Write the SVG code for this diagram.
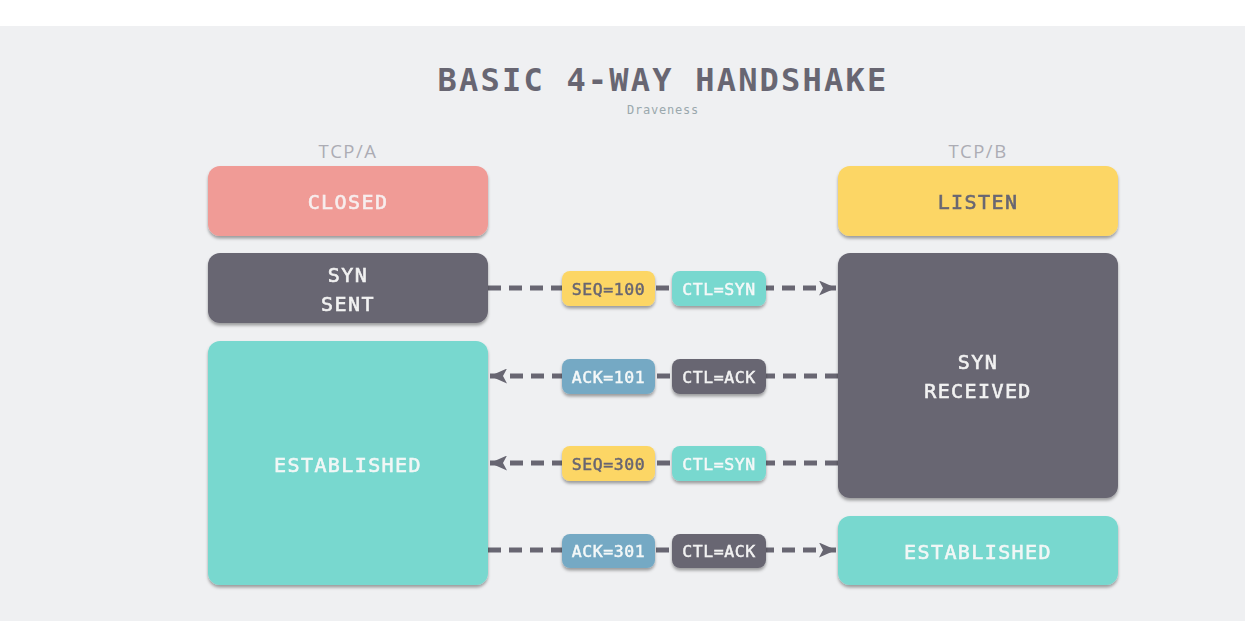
<svg xmlns="http://www.w3.org/2000/svg" width="1245" height="621" viewBox="0 0 1245 621">
<defs>
<filter id="sh" x="-10%" y="-10%" width="120%" height="130%">
<feDropShadow dx="0" dy="2.5" stdDeviation="1.5" flood-color="#000" flood-opacity="0.35"/>
</filter>
<marker id="ah" viewBox="0 0 17 15" refX="17" refY="7.5" markerWidth="17" markerHeight="15" markerUnits="userSpaceOnUse" orient="auto">
<path d="M0,0 L17,7.5 L0,15 L4,7.5 Z" fill="#686672"/>
</marker>
<style>
.node{filter:url(#sh)}
.nt{font-family:"DejaVu Sans Mono",monospace;font-size:20px;letter-spacing:1.4px;text-anchor:middle;dominant-baseline:central;stroke-width:0.6px;paint-order:stroke}
.pt{font-family:"DejaVu Sans Mono",monospace;font-size:16.5px;letter-spacing:0.6px;text-anchor:middle;dominant-baseline:central;stroke-width:0.5px}
.lab{font-family:"Open Sans","Liberation Sans",sans-serif;font-size:18.5px;letter-spacing:1.5px;fill:#acacb4;text-anchor:middle}
.conn{stroke:#686672;stroke-width:5;stroke-dasharray:13 8;fill:none}
</style>
</defs>
<rect x="0" y="0" width="1245" height="621" fill="#ffffff"/>
<rect x="0" y="26" width="1245" height="595" fill="#eff0f2"/>
<g id="title">
<text x="663" y="91" font-family="DejaVu Sans Mono,monospace" font-weight="bold" font-size="32" letter-spacing="2.2" fill="#686672" text-anchor="middle">BASIC 4-WAY HANDSHAKE</text>
<text x="663" y="114" font-family="DejaVu Sans Mono,monospace" font-size="12" letter-spacing="0.8" fill="#9aa8ad" text-anchor="middle">Draveness</text>
</g>
<g id="labels">
<text class="lab" x="348" y="158">TCP/A</text>
<text class="lab" x="978" y="158">TCP/B</text>
</g>
<g id="connectors">
<line class="conn" x1="488" y1="288" x2="836" y2="288" marker-end="url(#ah)"/>
<line class="conn" x1="838" y1="376" x2="490" y2="376" marker-end="url(#ah)"/>
<line class="conn" x1="838" y1="463" x2="490" y2="463" marker-end="url(#ah)"/>
<line class="conn" x1="488" y1="550" x2="836" y2="550" marker-end="url(#ah)"/>
</g>
<g id="closed" class="node"><rect x="208" y="166" width="280" height="70" rx="12" fill="#f09b96"/><text class="nt" x="348" y="202" fill="#f7eeee" stroke="#f7eeee">CLOSED</text></g>
<g id="synsent" class="node"><rect x="208" y="253" width="280" height="70" rx="12" fill="#686672"/><text class="nt" x="348" y="275" fill="#f2f2f2" stroke="#f2f2f2">SYN</text><text class="nt" x="348" y="304" fill="#f2f2f2" stroke="#f2f2f2">SENT</text></g>
<g id="estA" class="node"><rect x="208" y="341" width="280" height="244" rx="12" fill="#78d8cf"/><text class="nt" x="348" y="465" fill="#f2f7f6" stroke="#f2f7f6">ESTABLISHED</text></g>
<g id="listen" class="node"><rect x="838" y="166" width="280" height="70" rx="12" fill="#fcd665"/><text class="nt" x="978" y="202" fill="#686672" stroke="#686672">LISTEN</text></g>
<g id="synrecv" class="node"><rect x="838" y="253" width="280" height="245" rx="12" fill="#686672"/><text class="nt" x="978" y="362" fill="#f2f2f2" stroke="#f2f2f2">SYN</text><text class="nt" x="978" y="391" fill="#f2f2f2" stroke="#f2f2f2">RECEIVED</text></g>
<g id="estB" class="node"><rect x="838" y="516" width="280" height="69" rx="12" fill="#78d8cf"/><text class="nt" x="978" y="552" fill="#f2f7f6" stroke="#f2f7f6">ESTABLISHED</text></g>
<g id="p1" class="node"><rect x="562" y="271" width="93" height="35" rx="8" fill="#fcd665"/><text class="pt" x="608.5" y="289" fill="#686672" stroke="#686672">SEQ=100</text></g>
<g id="p2" class="node"><rect x="672" y="271" width="94" height="35" rx="8" fill="#78d8cf"/><text class="pt" x="719" y="289" fill="#f4f8f8" stroke="#f4f8f8">CTL=SYN</text></g>
<g id="p3" class="node"><rect x="562" y="359" width="93" height="35" rx="8" fill="#75a9c4"/><text class="pt" x="608.5" y="377" fill="#f4f8f8" stroke="#f4f8f8">ACK=101</text></g>
<g id="p4" class="node"><rect x="672" y="359" width="94" height="35" rx="8" fill="#686672"/><text class="pt" x="719" y="377" fill="#f2f2f2" stroke="#f2f2f2">CTL=ACK</text></g>
<g id="p5" class="node"><rect x="562" y="446" width="93" height="35" rx="8" fill="#fcd665"/><text class="pt" x="608.5" y="464" fill="#686672" stroke="#686672">SEQ=300</text></g>
<g id="p6" class="node"><rect x="672" y="446" width="94" height="35" rx="8" fill="#78d8cf"/><text class="pt" x="719" y="464" fill="#f4f8f8" stroke="#f4f8f8">CTL=SYN</text></g>
<g id="p7" class="node"><rect x="562" y="534" width="93" height="34" rx="8" fill="#75a9c4"/><text class="pt" x="608.5" y="551" fill="#f4f8f8" stroke="#f4f8f8">ACK=301</text></g>
<g id="p8" class="node"><rect x="672" y="534" width="94" height="34" rx="8" fill="#686672"/><text class="pt" x="719" y="551" fill="#f2f2f2" stroke="#f2f2f2">CTL=ACK</text></g>
</svg>
